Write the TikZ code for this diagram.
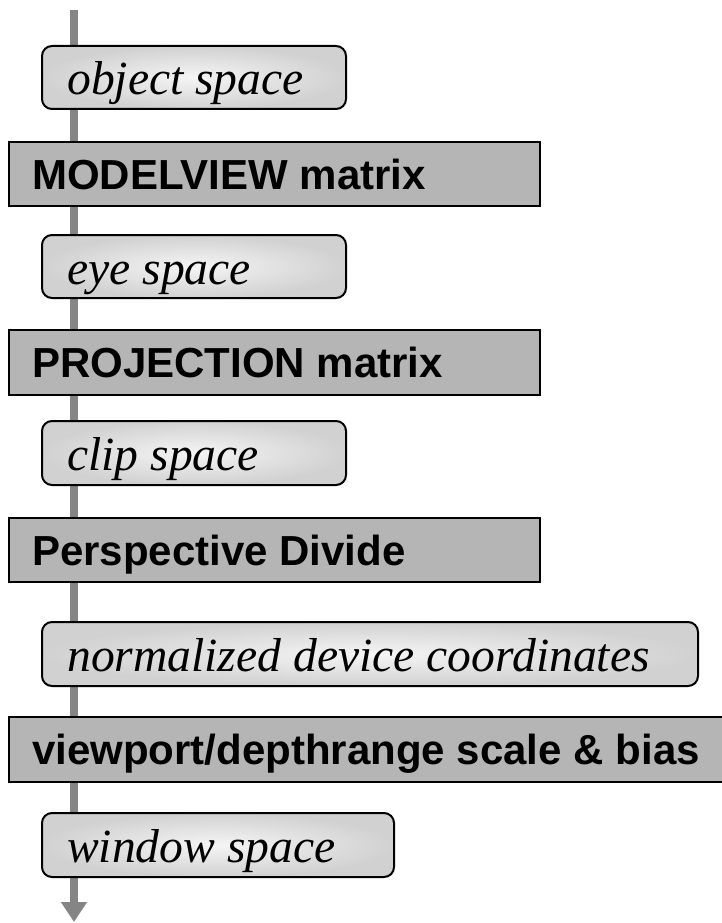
\documentclass[tikz,border=0pt]{standalone}
\usepackage{fontspec}
\setmainfont{Liberation Serif}
\setsansfont{Liberation Sans}
\usetikzlibrary{arrows.meta}
\definecolor{linegray}{gray}{0.52}
\definecolor{boxgray}{gray}{0.71}
\tikzset{
  spacebox/.style={draw=black, line width=2pt, rounded corners=10pt,
    inner color=white!96!black, outer color=black!18, shading=radial},
  opbox/.style={draw=black, line width=1.8pt, fill=boxgray},
  spacetext/.style={anchor=base west, inner sep=0pt, font=\fontsize{47.6}{50}\selectfont\itshape},
  optext/.style={anchor=base west, inner sep=0pt, font=\fontsize{42}{46}\selectfont\sffamily\bfseries},
  flow/.style={draw=linegray, line width=8pt},
}
\begin{document}
\begin{tikzpicture}[x=1pt,y=-1pt]
\useasboundingbox (0,0) rectangle (722,923);
% vertical flow line
\coordinate (top) at (74,10);
\coordinate (bot) at (74,922);
\draw[flow, -{Triangle[length=20pt,width=25pt]}] (top) -- (bot);
% boxes
\path[spacebox] (42,46) rectangle (346,109);
\node[spacetext] (obj) at (67,95) {object space};
\path[opbox] (9,142) rectangle (540,206);
\node[optext] (mv) at (32,189) {MODELVIEW matrix};
\path[spacebox] (42,235) rectangle (346,298);
\node[spacetext] (eye) at (67,284) {eye space};
\path[opbox] (9,330) rectangle (540,395);
\node[optext] (proj) at (32,377) {PROJECTION matrix};
\path[spacebox] (42,421) rectangle (346,485);
\node[spacetext] (clip) at (67,470) {clip space};
\path[opbox] (9,518) rectangle (540,582);
\node[optext] (pd) at (32,565) {Perspective Divide};
\path[spacebox] (42,622) rectangle (698,686);
\node[spacetext] (ndc) at (67,671) {normalized device coordinates};
\path[opbox] (9,717) rectangle (730,782);
\node[optext] (vp) at (32,764) {viewport/depthrange scale \& bias};
\path[spacebox] (42,813) rectangle (394,877);
\node[spacetext] (win) at (67,862) {window space};
\end{tikzpicture}
\end{document}
